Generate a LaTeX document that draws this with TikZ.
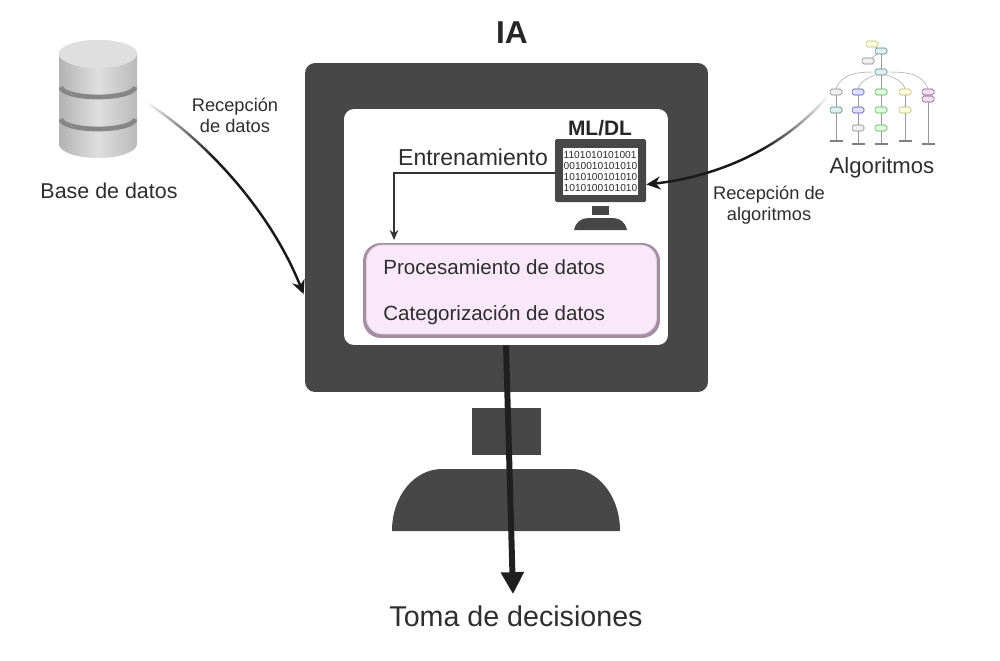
\documentclass[tikz,border=0pt]{standalone}
\usepackage{fontspec}
\setmainfont{Liberation Sans}
\usetikzlibrary{arrows.meta,fadings}
\definecolor{oscuro}{HTML}{474747}
\definecolor{texto}{HTML}{2E2E2E}
\definecolor{rosa}{HTML}{F8E8F9}
\definecolor{malva}{HTML}{A58CA3}
\pgfdeclarehorizontalshading{sombraizq}{100bp}{color(0bp)=(pgftransparent!100); color(25bp)=(pgftransparent!100); color(46bp)=(pgftransparent!0); color(100bp)=(pgftransparent!0)}
\pgfdeclarehorizontalshading{sombrader}{100bp}{color(0bp)=(pgftransparent!0); color(57bp)=(pgftransparent!0); color(75bp)=(pgftransparent!100); color(100bp)=(pgftransparent!100)}
\pgfdeclarefading{fadeizq}{\pgfuseshading{sombraizq}}
\pgfdeclarefading{fadeder}{\pgfuseshading{sombrader}}
\tikzset{
	solido/.style={fill=oscuro,draw=none,inner sep=0},
	rotulo/.style={text=texto,inner sep=0,align=center,font=\fontsize{12.2}{14}\selectfont},
	chico/.style={text=texto,inner sep=0,align=center,font=\fontsize{10.4}{12}\selectfont},
	hoja/.style={draw=#1!40!gray,fill=#1!12,line width=0.3pt,rounded corners=1pt,minimum width=0.24cm,minimum height=0.12cm,inner sep=0},
	hoja/.default=teal,
	marca/.style={fill=gray,inner sep=0,minimum width=0.26cm,minimum height=0.03cm},
	rama/.style={draw=gray!80,line width=0.25pt},
}
\begin{document}
\begin{tikzpicture}[x=0.02cm,y=-0.02cm]
	\useasboundingbox (0,0) rectangle (1000,660);
	%%%%% MONITOR %%%%%

	\node[solido,rounded corners=0.2cm,minimum width=8.06cm,minimum height=6.58cm] (pantalla) at (506.5,227.5) {};
	\node[fill=white,inner sep=0,rounded corners=0.2cm,minimum width=6.48cm,minimum height=4.72cm] (blanca) at (506,227) {};
	\node[solido,minimum width=1.38cm,minimum height=0.94cm] (cuello) at (506.5,431.5) {};
	\fill[oscuro] (392,531) .. controls (392,495) and (415,469) .. (442,469) -- (572,469) .. controls (597,469) and (620,495) .. (620,531) -- cycle;
	\node[font=\bfseries\fontsize{18}{20}\selectfont,text=black!85,inner sep=0] (titulo) at (512,33) {IA};

	%%%%% CAJA %%%%%

	\node[fill=malva,inner sep=0,rounded corners=0.36cm,minimum width=5.94cm,minimum height=1.9cm] (cajafondo) at (511.5,290.5) {};
	\node[fill=rosa,draw=malva!35,line width=0.5pt,inner sep=0,rounded corners=0.32cm,minimum width=5.8cm,minimum height=1.78cm] (caja) at (511.5,289.5) {};
	\node[rotulo,anchor=west,font=\fontsize{11.7}{14}\selectfont] (procesa) at (383,267) {Procesamiento de datos};
	\node[rotulo,anchor=west,font=\fontsize{11.7}{14}\selectfont] (categoriza) at (383,315) {Categorización de datos};

	%%%%% ML/DL %%%%%

	\node[solido,rounded corners=0.03cm,minimum width=1.82cm,minimum height=1.26cm] (mini) at (600.5,170.5) {};
	\node[fill=white,inner sep=0,minimum width=1.5cm,minimum height=0.94cm,text=texto,align=left,font=\fontsize{5.8}{6.4}\selectfont] (binario) at (600.5,171.5) {1101010101001\\0010010101010\\1010100101010\\1010100101010};
	\node[solido,minimum width=0.34cm,minimum height=0.18cm] (minicuello) at (600.5,210.5) {};
	\fill[oscuro] (574,230) .. controls (575,223) and (581,218) .. (588,218) -- (613,218) .. controls (620,218) and (626,223) .. (627,230) -- cycle;
	\node[font=\bfseries\fontsize{11.9}{13}\selectfont,text=black!85,inner sep=0] (mldl) at (600,128) {ML/DL};
	\node[rotulo,font=\fontsize{13.1}{15}\selectfont] (entrena) at (473,157) {Entrenamiento};
	\coordinate (salida) at (555,173);
	\coordinate (entrada) at (394,240);
	\draw[-{Stealth[length=0.2cm,width=0.17cm]},line width=0.7pt,draw=black!80] (salida) -| (entrada);

	%%%%% BASE DE DATOS %%%%%

	\draw[draw=none,left color=gray!60,right color=gray!55,middle color=gray!25] (59,54) -- (59,144) arc (180:0:39 and 14) -- (137,54) arc (0:-180:39 and 14) -- cycle;
	\fill[gray!25] (98,54) ellipse (39 and 14);
	\draw[gray!95,line width=2.7pt] (61,87) arc (180:0:37 and 10);
	\draw[gray!95,line width=2.7pt] (61,119) arc (180:0:37 and 10);
	\node[rotulo] (base) at (109,191) {Base de datos};
	\coordinate (salebase) at (147,103);
	\node[chico] (recdatos) at (235,115) {Recepción\\de datos};

	%%%%% ALGORITMOS %%%%%

	\node[hoja=yellow] (a0) at (872,44) {};
	\node[hoja] (a1) at (881,51) {};
	\node[hoja=gray] (a2) at (868,61) {};
	\node[hoja] (a3) at (881,72) {};
	\node[hoja=gray] (b1) at (836,92) {};
	\node[hoja=blue] (b2) at (858,92) {};
	\node[hoja=green] (b3) at (881,92) {};
	\node[hoja=yellow] (b4) at (905,92) {};
	\node[hoja=violet] (b5) at (928,92) {};
	\node[hoja=violet] (b6) at (928,99) {};
	\node[hoja] (c1) at (836,110) {};
	\node[hoja=blue] (c2) at (858,110) {};
	\node[hoja=green] (c3) at (881,110) {};
	\node[hoja=yellow] (c4) at (905,110) {};
	\node[hoja=gray] (d2) at (858,128) {};
	\node[hoja=green] (d3) at (881,128) {};
	\node[marca] (e1) at (836,141) {};
	\node[marca] (e2) at (858,144) {};
	\node[marca] (e3) at (881,144) {};
	\node[marca] (e4) at (905,141) {};
	\node[marca] (e5) at (928,144) {};
	\draw[rama] (a0) -- (a1);
	\draw[rama] (a2) -- (a1);
	\draw[rama] (a1) -- (a3);
	\draw[rama] (a3.west) to[out=180,in=70] (b1.north);
	\draw[rama] (a3.south west) to[out=200,in=70] (b2.north);
	\draw[rama] (a3) -- (b3);
	\draw[rama] (a3.south east) to[out=-20,in=110] (b4.north);
	\draw[rama] (a3.east) to[out=0,in=110] (b5.north);
	\draw[rama] (b1) -- (c1);
	\draw[rama] (b2) -- (c2);
	\draw[rama] (b3) -- (c3);
	\draw[rama] (b4) -- (c4);
	\draw[rama] (c2) -- (d2);
	\draw[rama] (c3) -- (d3);
	\draw[rama] (c1) -- (e1);
	\draw[rama] (d2) -- (e2);
	\draw[rama] (d3) -- (e3);
	\draw[rama] (c4) -- (e4);
	\draw[rama] (b6) -- (e5);
	\node[rotulo,font=\fontsize{12.6}{15}\selectfont] (algo) at (882,168) {Algoritmos};
	\coordinate (salealgo) at (827,97);
	\node[chico] (recalgo) at (769,205) {Recepción de\\algoritmos};

	%%%%% FLECHAS %%%%%

	\draw[-{Stealth[length=0.28cm,width=0.26cm]},line width=1.4pt,draw=black!90,shorten >=0.06cm,path fading=fadeizq,fit fading=true] (salebase) .. controls (205,140) and (270,210) .. (pantalla.199);
	\draw[-{Stealth[length=0.28cm,width=0.26cm]},line width=1.4pt,draw=black!90,path fading=fadeder,fit fading=true] (salealgo) .. controls (790,140) and (730,175) .. (mini.-17);
	\node[text=texto,inner sep=0,font=\fontsize{16.3}{19}\selectfont] (toma) at (516,616) {Toma de decisiones};
	\draw[-{Triangle[length=0.44cm,width=0.44cm]},line width=3.4pt,draw=black!88] (blanca.south) -- ([xshift=-0.06cm,yshift=0.22cm]toma.north);

	%%%%% END %%%%%
\end{tikzpicture}
\end{document}
